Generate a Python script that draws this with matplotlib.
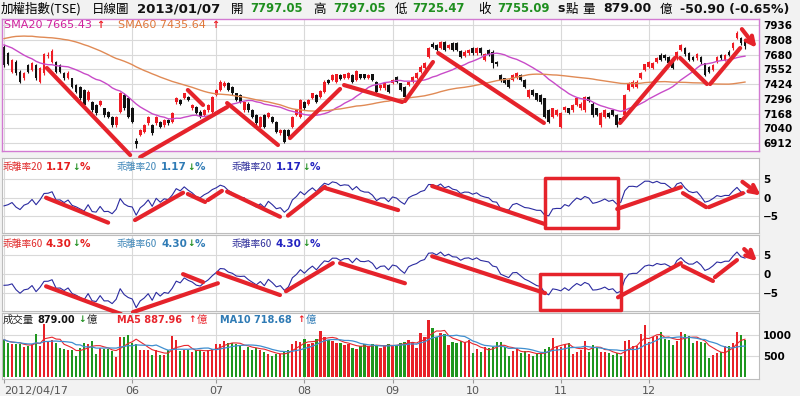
import numpy as np
import pandas as pd
import matplotlib
matplotlib.use("Agg")
import matplotlib.pyplot as plt
from matplotlib.patches import Rectangle

# ---- values (TAIEX daily, 2012/04/17 - 2013/01/07) ----
opens = [7748, 7690, 7531, 7617, 7531, 7473, 7588, 7545, 7588, 7444,
         7516, 7670, 7617, 7617, 7588, 7516, 7473, 7473, 7415, 7400,
         7371, 7284, 7270, 7241, 7241, 7212, 7183, 7140, 7067, 7183,
         7328, 7305, 7212, 6930, 6980, 7009, 7082, 7067, 7082, 7096,
         7067, 7111, 7096, 7264, 7284, 7306, 7313, 7212, 7226, 7183,
         7154, 7197, 7183, 7328, 7371, 7406, 7429, 7400, 7342, 7328,
         7197, 7255, 7197, 7154, 7053, 7154, 7140, 7140, 7096, 6995,
         7024, 7024, 7053, 7154, 7140, 7270, 7255, 7299, 7328, 7313,
         7357, 7458, 7458, 7444, 7502, 7473, 7473, 7502, 7458, 7507,
         7507, 7473, 7507, 7444, 7386, 7386, 7415, 7429, 7487, 7429,
         7400, 7415, 7444, 7473, 7531, 7560, 7661, 7768, 7762, 7739,
         7791, 7739, 7782, 7776, 7710, 7670, 7690, 7733, 7690, 7733,
         7632, 7719, 7704, 7617, 7502, 7473, 7458, 7458, 7473, 7502,
         7458, 7313, 7371, 7342, 7328, 7299, 7197, 7140, 7154, 7053,
         7197, 7212, 7197, 7241, 7212, 7197, 7313, 7255, 7212, 7067,
         7140, 7169, 7197, 7154, 7125, 7154, 7371, 7400, 7400, 7473,
         7545, 7574, 7560, 7617, 7675, 7675, 7661, 7617, 7646, 7719,
         7733, 7690, 7661, 7646, 7661, 7603, 7574, 7545, 7617, 7675,
         7632, 7704, 7733, 7826, 7820, 7797.05]
highs = [7760, 7700, 7645, 7630, 7545, 7525, 7600, 7615, 7600, 7570,
         7695, 7700, 7725, 7625, 7595, 7525, 7535, 7480, 7425, 7410,
         7380, 7370, 7280, 7250, 7285, 7220, 7190, 7150, 7150, 7355,
         7345, 7315, 7225, 6960, 7035, 7075, 7150, 7080, 7150, 7105,
         7120, 7120, 7180, 7310, 7295, 7350, 7320, 7250, 7235, 7195,
         7205, 7250, 7320, 7380, 7455, 7450, 7440, 7410, 7350, 7335,
         7280, 7265, 7205, 7160, 7150, 7165, 7180, 7150, 7105, 7035,
         7035, 7030, 7150, 7210, 7295, 7280, 7295, 7350, 7335, 7370,
         7455, 7470, 7510, 7515, 7510, 7515, 7525, 7510, 7545, 7515,
         7515, 7510, 7515, 7450, 7425, 7440, 7425, 7465, 7495, 7435,
         7405, 7450, 7495, 7525, 7585, 7615, 7745, 7790, 7770, 7795,
         7800, 7770, 7790, 7785, 7720, 7715, 7730, 7745, 7745, 7745,
         7690, 7725, 7715, 7625, 7510, 7480, 7465, 7510, 7525, 7510,
         7465, 7380, 7380, 7350, 7335, 7305, 7205, 7220, 7205, 7180,
         7235, 7220, 7250, 7310, 7265, 7320, 7320, 7265, 7220, 7180,
         7205, 7180, 7205, 7160, 7130, 7335, 7440, 7455, 7455, 7525,
         7600, 7625, 7615, 7660, 7690, 7685, 7670, 7625, 7710, 7775,
         7745, 7700, 7670, 7690, 7670, 7610, 7580, 7595, 7670, 7685,
         7685, 7715, 7785, 7880, 7830, 7797.05]
lows = [7570, 7585, 7520, 7505, 7430, 7460, 7520, 7535, 7460, 7435,
        7505, 7650, 7605, 7520, 7520, 7460, 7465, 7390, 7345, 7285,
        7230, 7275, 7185, 7155, 7230, 7140, 7125, 7055, 7055, 7170,
        7200, 7130, 7085, 6870, 6970, 7000, 7070, 6980, 7070, 7040,
        7055, 7070, 7085, 7255, 7245, 7295, 7275, 7200, 7160, 7130,
        7145, 7185, 7175, 7320, 7360, 7395, 7360, 7330, 7275, 7260,
        7185, 7185, 7130, 7070, 7040, 7040, 7130, 7085, 6995, 6985,
        6910, 6965, 7040, 7145, 7130, 7200, 7245, 7290, 7260, 7300,
        7345, 7420, 7450, 7435, 7455, 7465, 7465, 7435, 7450, 7470,
        7470, 7465, 7450, 7345, 7375, 7375, 7345, 7420, 7435, 7360,
        7300, 7405, 7435, 7465, 7520, 7550, 7650, 7740, 7710, 7730,
        7710, 7730, 7710, 7710, 7650, 7660, 7680, 7680, 7680, 7680,
        7620, 7665, 7560, 7580, 7445, 7420, 7390, 7450, 7465, 7450,
        7390, 7300, 7320, 7275, 7255, 7130, 7085, 7130, 7145, 7040,
        7185, 7160, 7185, 7230, 7200, 7185, 7265, 7140, 7145, 7055,
        7130, 7130, 7145, 7055, 7085, 7145, 7360, 7390, 7390, 7465,
        7535, 7565, 7550, 7605, 7620, 7635, 7595, 7550, 7635, 7710,
        7670, 7620, 7620, 7635, 7600, 7490, 7520, 7535, 7605, 7635,
        7620, 7665, 7720, 7815, 7765, 7725.47]
closes = [7588, 7600, 7632, 7516, 7444, 7516, 7531, 7603, 7473, 7560,
          7681, 7680, 7710, 7531, 7531, 7473, 7522, 7400, 7357, 7299,
          7241, 7357, 7197, 7169, 7276, 7154, 7140, 7067, 7140, 7342,
          7212, 7140, 7096, 6905, 7024, 7067, 7140, 6995, 7140, 7053,
          7111, 7082, 7169, 7299, 7255, 7342, 7284, 7241, 7169, 7140,
          7197, 7241, 7313, 7371, 7444, 7435, 7371, 7342, 7284, 7270,
          7270, 7197, 7140, 7082, 7140, 7053, 7169, 7096, 7009, 7024,
          6922, 6975, 7140, 7197, 7284, 7212, 7284, 7342, 7270, 7362,
          7444, 7429, 7502, 7507, 7467, 7507, 7516, 7444, 7536, 7478,
          7478, 7502, 7458, 7357, 7415, 7429, 7357, 7458, 7444, 7371,
          7313, 7444, 7487, 7516, 7574, 7603, 7733, 7748, 7719, 7785,
          7719, 7762, 7719, 7719, 7661, 7704, 7719, 7690, 7733, 7690,
          7681, 7675, 7603, 7594, 7458, 7429, 7400, 7502, 7516, 7458,
          7400, 7371, 7328, 7284, 7264, 7140, 7096, 7212, 7197, 7169,
          7226, 7169, 7241, 7299, 7255, 7313, 7276, 7154, 7154, 7169,
          7197, 7140, 7154, 7067, 7096, 7328, 7429, 7444, 7444, 7516,
          7594, 7617, 7603, 7652, 7632, 7646, 7603, 7560, 7704, 7762,
          7681, 7632, 7632, 7681, 7612, 7502, 7531, 7588, 7661, 7646,
          7675, 7675, 7776, 7863, 7776, 7755.09]
# closes before the first visible day, estimated so the SMA lines start where drawn
prior_closes = [7180, 7190, 7230, 7380, 7410, 7620, 7600, 7730, 7750, 7790,
                7850, 7810, 7780, 7790, 7830, 7810, 7880, 7900, 7960, 7990,
                8000, 8030, 8040, 8100, 8120, 8150, 8140, 8080, 8010, 7970,
                8000, 8030, 8050, 8010, 7990, 7960, 7900, 7930, 7940, 7880,
                7860, 7900, 7930, 7880, 7920, 7880, 7890, 7900, 7850, 7860,
                7800, 7720, 7700, 7600, 7540, 7580, 7650, 7620, 7600]
volumes = [889, 810, 794, 794, 778, 715, 730, 778, 1032, 730,
           1270, 834, 873, 810, 699, 675, 635, 651, 492, 699,
           818, 794, 858, 556, 699, 675, 675, 619, 476, 953,
           953, 993, 810, 794, 635, 651, 651, 516, 651, 516,
           516, 635, 969, 873, 619, 651, 651, 596, 635, 651,
           596, 651, 675, 778, 794, 858, 810, 810, 778, 754,
           651, 715, 651, 699, 651, 596, 556, 492, 556, 556,
           596, 651, 778, 858, 834, 913, 794, 810, 913, 1096,
           953, 889, 858, 818, 810, 754, 794, 699, 675, 730,
           794, 730, 778, 754, 699, 754, 794, 754, 760,
           800, 840, 880, 840, 680, 1056, 944, 1360, 1160, 960,
           1040, 1024, 760, 840, 800, 864, 840, 880, 576, 656,
           600, 704, 680, 704, 840, 840, 704, 496, 624, 680,
           560, 624, 544, 496, 560, 576, 656, 720, 920, 736,
           720, 776, 800, 544, 600, 640, 864, 600, 760, 704,
           600, 600, 576, 520, 560, 496, 864, 880, 736, 736,
           1024, 1240, 840, 944, 976, 1064, 896, 880, 760, 864,
           1080, 1024, 976, 800, 864, 840, 816, 440, 520, 576,
           600, 736, 736, 800, 1080, 1000, 879]

month_pos = [0, 32, 53, 75, 97, 117, 139, 161]
month_labels = ['2012/04/17', '06', '07', '08', '09', '10', '11', '12']
price_ticks = [6912, 7040, 7168, 7296, 7424, 7552, 7680, 7808, 7936]
dev_ticks = [-5, 0, 5]
vol_ticks = [500, 1000]

# hand-drawn red marks: (x0, y0, x1, y1) in bar index / panel units
marks_price = [(10.7, 7563, 31.5, 6808), (34.0, 6790, 55.7, 7224),
               (45.9, 7372, 49.7, 7242), (55.7, 7259, 68.4, 6895),
               (71.4, 6955, 83.9, 7381), (84.9, 7415, 99.4, 7268),
               (100.1, 7276, 107.1, 7615), (108.4, 7693, 134.8, 7086),
               (153.8, 7086, 167.5, 7650), (168.8, 7650, 175.5, 7424),
               (176.3, 7424, 183.8, 7736)]
marks_dev20 = [(10.5, -0.05, 26.0, -6.8), (32.7, -6.1, 44.7, 1.3),
               (45.9, 0.95, 50.2, -1.2), (50.9, -0.7, 54.4, 1.8),
               (55.7, 1.6, 68.9, -5.2), (70.9, -4.9, 80.1, 2.9),
               (80.1, 2.6, 98.4, -3.4), (106.9, 3.1, 135.1, -7.2),
               (153.1, -3.1, 169.0, 2.8), (169.5, 1.2, 175.3, -2.6),
               (176.0, -2.6, 184.5, 1.2)]
marks_dev60 = [(10.5, -3.2, 29.2, -10.5), (32.2, -10.0, 53.4, -2.4),
               (44.7, 0.0, 49.7, -2.1), (53.4, 0.3, 68.9, -5.5),
               (70.4, -4.5, 82.1, 2.9), (83.9, 2.9, 100.1, -2.4),
               (106.9, 4.7, 135.1, -5.0), (153.3, -6.1, 169.0, 2.9),
               (169.5, 2.1, 177.0, -1.8), (177.5, -0.8, 183.0, 3.7)]
arrow_price = (183.8, 7919, 188.3, 7719)
arrow_dev20 = (183.8, 4.7, 189.5, 0.1)
arrow_dev60 = (184.3, 7.1, 188.5, 2.9)
box_dev20 = (135.1, -8.2, 153.3, 5.3)
box_dev60 = (133.8, -9.5, 154.1, 0.0)

# ---- derived series ----
o = np.array(opens); h = np.array(highs); l = np.array(lows); c = np.array(closes)
allc = pd.Series(prior_closes + closes)
n0 = len(prior_closes)
sma20 = allc.rolling(20).mean().to_numpy()[n0:]
sma60 = allc.rolling(60).mean().to_numpy()[n0:]
dev20 = (c - sma20) / sma20 * 100
dev60 = (c - sma60) / sma60 * 100
vol = pd.Series(volumes)
ma5 = vol.rolling(5, min_periods=1).mean()
ma10 = vol.rolling(10, min_periods=1).mean()
x = np.arange(len(c))
up = c >= o

RED = '#ee1c24'
GREEN = '#1f8f1f'
MARK = '#e5232b'
CJK = ['Noto Sans CJK TC', 'DejaVu Sans']

W, H = 800, 396
fig = plt.figure(figsize=(W / 100, H / 100), dpi=100, facecolor='#f2f2f2')


def add_ax(x0, y0, x1, y1):
    return fig.add_axes([x0 / W, 1 - y1 / H, (x1 - x0) / W, (y1 - y0) / H])


def ftext(px, py, s, **kw):
    kw.setdefault('va', 'center')
    fig.text(px / W, 1 - py / H, s, **kw)


ax1 = add_ax(2, 19, 759, 151)
ax2 = add_ax(2, 158, 759, 233)
ax3 = add_ax(2, 235, 759, 311)
ax4 = add_ax(2, 313, 759, 379)

for ax, ticks, lim in [(ax1, price_ticks, (6843, 7988)),
                       (ax2, dev_ticks, (-9.6, 10.7)),
                       (ax3, dev_ticks, (-9.7, 10.3)),
                       (ax4, vol_ticks, (-48, 1523))]:
    ax.set_facecolor('white')
    ax.set_xlim(-0.5, 188.5)
    ax.set_ylim(*lim)
    ax.set_yticks(ticks)
    ax.yaxis.tick_right()
    ax.tick_params(axis='y', length=0, pad=3, labelsize=7.5)
    for t in ax.get_yticklabels():
        t.set_fontweight('bold')
    ax.set_xticks(month_pos)
    ax.tick_params(axis='x', length=0, labelbottom=False)
    ax.grid(True, color='#d9d9d9', lw=0.8)
    ax.set_axisbelow(True)
    for s in ax.spines.values():
        s.set_color('#bdbdbd')
        s.set_linewidth(0.8)
for s in ax1.spines.values():
    s.set_color('#d27ad2')
    s.set_linewidth(1.0)

# candles
col = np.where(up, RED, '#111111')
ax1.vlines(x, l, h, colors=col, lw=0.8)
ax1.bar(x, np.maximum(np.abs(c - o), 4), bottom=np.minimum(o, c), width=0.7, color=col)
ax1.plot(x, sma20, color='#c84bc8', lw=1.0)
ax1.plot(x, sma60, color='#e08a55', lw=1.0)

# bias panels
ax2.plot(x, dev20, color='#2b2ba0', lw=0.8)
ax3.plot(x, dev60, color='#2b2ba0', lw=0.8)

# volume
vcol = np.where(up, '#e82128', '#1e961e')
ax4.bar(x, volumes, width=0.55, color=vcol)
ax4.plot(x, ma5, color='#e8262e', lw=0.8)
ax4.plot(x, ma10, color='#3f8fd0', lw=0.9)
ax4.tick_params(axis='x', length=3, color='#999999', labelbottom=True,
                labelsize=8, labelcolor='#555555', pad=2)
ax4.set_xticklabels(month_labels)
ax4.get_xticklabels()[0].set_horizontalalignment('left')

# hand-drawn marks
for ax, marks in [(ax1, marks_price), (ax2, marks_dev20), (ax3, marks_dev60)]:
    for x0, y0, x1, y1 in marks:
        ax.plot([x0, x1], [y0, y1], color=MARK, lw=3, solid_capstyle='round',
                clip_on=False, zorder=6)
for ax, (x0, y0, x1, y1) in [(ax1, arrow_price), (ax2, arrow_dev20), (ax3, arrow_dev60)]:
    ax.annotate('', xy=(x1, y1), xytext=(x0, y0), annotation_clip=False, zorder=6,
                arrowprops=dict(arrowstyle='->', color=MARK, lw=3, mutation_scale=14))
for ax, (x0, y0, x1, y1) in [(ax2, box_dev20), (ax3, box_dev60)]:
    ax.add_patch(Rectangle((x0, y0), x1 - x0, y1 - y0, fill=False, ec=MARK, lw=2.5,
                           joinstyle='round', clip_on=False, zorder=6))

# header
hdr = [(1, '加權指數(TSE)', 'black', 'normal', CJK, 9),
       (92, '日線圖', 'black', 'normal', CJK, 9),
       (137, '2013/01/07', '#111111', 'bold', 'DejaVu Sans', 9.5),
       (231, '開', 'black', 'normal', CJK, 9),
       (250, '7797.05', GREEN, 'bold', 'DejaVu Sans', 8.4),
       (313, '高', 'black', 'normal', CJK, 9),
       (333, '7797.05', GREEN, 'bold', 'DejaVu Sans', 8.4),
       (395, '低', 'black', 'normal', CJK, 9),
       (412, '7725.47', GREEN, 'bold', 'DejaVu Sans', 8.4),
       (478, '收', 'black', 'normal', CJK, 9),
       (497, '7755.09', GREEN, 'bold', 'DejaVu Sans', 8.4),
       (557, 's', '#111111', 'bold', 'DejaVu Sans', 9),
       (566, '點', 'black', 'normal', CJK, 9),
       (582, '量', 'black', 'normal', CJK, 9),
       (603, '879.00', '#111111', 'bold', 'DejaVu Sans', 9),
       (660, '億', 'black', 'normal', CJK, 9),
       (680, '-50.90 (-0.65%)', '#111111', 'bold', 'DejaVu Sans', 9)]
for px, s, colr, wt, fam, sz in hdr:
    ftext(px, 9, s, color=colr, fontweight=wt, family=fam, fontsize=sz)

# panel captions
ftext(4, 25, 'SMA20 7665.43', color='#d0209e', fontsize=8)
ftext(96, 25, '↑', color=RED, fontsize=7, fontweight='bold')
ftext(118, 25, 'SMA60 7435.64', color='#e0763a', fontsize=8)
ftext(211, 25, '↑', color=RED, fontsize=7, fontweight='bold')

groups = [(3, 46, 72, 80, '#e02828', '#e51e1e'),
          (117, 161, 187, 195, '#3f86b8', '#2f7bb5'),
          (232, 276, 302, 310, '#2d2d9a', '#2222c0')]
for py, name, val in [(167, '乖離率20', '1.17'), (244, '乖離率60', '4.30')]:
    for xn, xv, xa, xp, c1, c2 in groups:
        ftext(xn, py, name, color=c1, family=CJK, fontsize=7)
        ftext(xv, py, val, color=c2, fontweight='bold', fontsize=7.5)
        ftext(xa, py, '↓', color=GREEN, fontweight='bold', fontsize=6.5)
        ftext(xp, py, '%', color=c2, fontweight='bold', fontsize=7.5)

ftext(3, 320, '成交量', color='#222222', family=CJK, fontsize=7.5)
ftext(37, 320, '879.00', color='#111111', fontweight='bold', fontsize=7)
ftext(78, 320, '↓', color=GREEN, fontweight='bold', fontsize=6.5)
ftext(87, 320, '億', color='#222222', family=CJK, fontsize=7.5)
ftext(117, 320, 'MA5 887.96', color='#e8262e', fontweight='bold', fontsize=7)
ftext(188, 320, '↑', color=RED, fontweight='bold', fontsize=6.5)
ftext(197, 320, '億', color='#e8262e', family=CJK, fontsize=7.5)
ftext(220, 320, 'MA10 718.68', color='#2f7bb5', fontweight='bold', fontsize=7)
ftext(297, 320, '↑', color=RED, fontweight='bold', fontsize=6.5)
ftext(306, 320, '億', color='#2f7bb5', family=CJK, fontsize=7.5)

fig.savefig('out.png', dpi=100, facecolor=fig.get_facecolor())
